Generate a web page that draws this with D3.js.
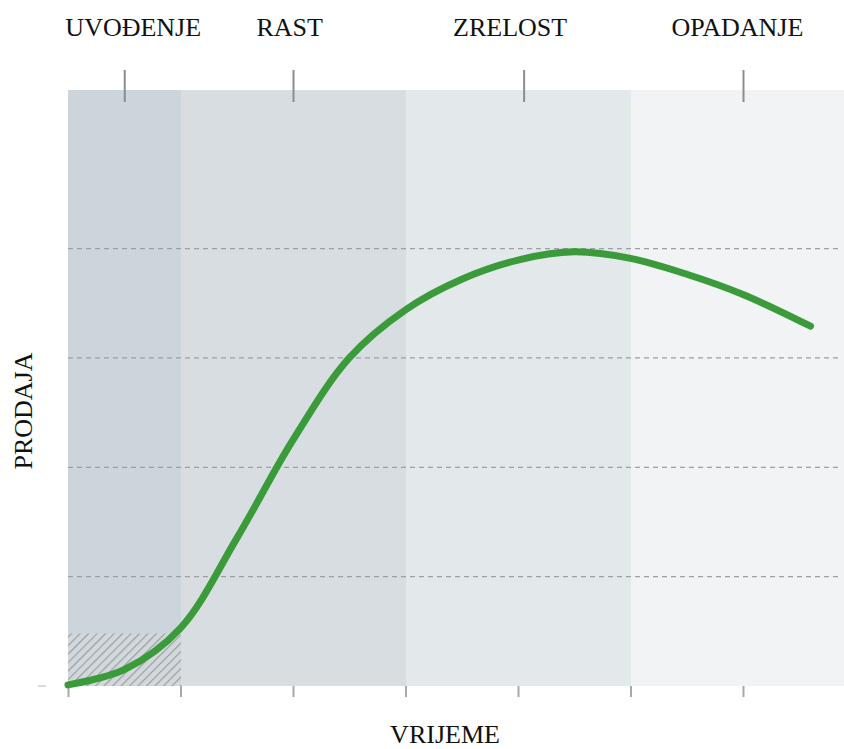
<!DOCTYPE html>
<html>
<head>
<meta charset="utf-8">
<script src="https://cdn.jsdelivr.net/npm/d3@7"></script>
<style>
  body { margin: 0; background: #fff; }
  svg { display: block; }
  text { font-family: "Liberation Serif", "Times New Roman", serif; fill: #111; }
</style>
</head>
<body>
<svg id="chart" width="844" height="749"></svg>
<script>
// stages of the product life cycle (x in time units)
const stageNames = ["UVOĐENJE", "RAST", "ZRELOST", "OPADANJE"];
const stageStart = [0, 1, 3, 5];
const stageEnd = [1, 3, 5, 6.9];
const stageTick = [0.5, 2, 4.05, 6];
const stageLabelAt = [0.58, 1.97, 3.93, 5.95];

// sales curve
const timeVals = [0, 0.5, 1.0, 1.5, 2.0, 2.5, 3.0, 3.5, 4.0, 4.5, 5.0, 5.5, 6.0, 6.6];
const salesVals = [0.01, 0.15, 0.53, 1.35, 2.25, 3.0, 3.44, 3.72, 3.895, 3.97, 3.91, 3.765, 3.58, 3.29];

const timeTicks = [0, 1, 2, 3, 4, 5, 6];
const gridVals = [1, 2, 3, 4];
const hatchTop = 0.48;

const svg = d3.select("#chart");
const plot = { left: 68, right: 844, top: 90, bottom: 686 };

const x = d3.scaleLinear().domain([0, 6]).range([plot.left, 743]);
const y = d3.scaleLinear().domain([0, 5.45]).range([plot.bottom, plot.top]);

const bandColors = ["#cdd5dc", "#d8dde1", "#e3e8eb", "#f1f3f5"];

// hatch pattern
const defs = svg.append("defs");
const pat = defs.append("pattern")
  .attr("id", "hatch")
  .attr("patternUnits", "userSpaceOnUse")
  .attr("width", 6).attr("height", 6)
  .attr("patternTransform", "rotate(45)");
pat.append("rect").attr("width", 6).attr("height", 6).attr("fill", "#d3d8dc");
pat.append("line")
  .attr("x1", 0).attr("y1", 0).attr("x2", 0).attr("y2", 6)
  .attr("stroke", "#9a9fa4").attr("stroke-width", 2.4);

// bands
svg.append("g").selectAll("rect")
  .data(stageNames)
  .join("rect")
  .attr("x", (d, i) => Math.round(x(stageStart[i])))
  .attr("y", plot.top)
  .attr("width", (d, i) => Math.round(x(stageEnd[i])) - Math.round(x(stageStart[i])))
  .attr("height", plot.bottom - plot.top)
  .attr("fill", (d, i) => bandColors[i])
  .attr("shape-rendering", "crispEdges");

// hatched area
svg.append("rect")
  .attr("x", x(0))
  .attr("y", y(hatchTop))
  .attr("width", Math.round(x(1)) - x(0))
  .attr("height", y(0) - y(hatchTop))
  .attr("fill", "url(#hatch)");

// dashed grid
svg.append("g").selectAll("line")
  .data(gridVals)
  .join("line")
  .attr("x1", plot.left).attr("x2", plot.right - 4)
  .attr("y1", d => y(d)).attr("y2", d => y(d))
  .attr("stroke", "#9c9fa3")
  .attr("stroke-width", 1.3)
  .attr("stroke-dasharray", "5,4");

// bottom axis ticks
const xAxis = svg.append("g")
  .attr("transform", "translate(0," + plot.bottom + ")")
  .call(d3.axisBottom(x).tickValues(timeTicks).tickSize(11).tickFormat(""));
xAxis.select(".domain").remove();
xAxis.selectAll("line").attr("stroke", "#a6a8aa").attr("stroke-width", 2);

// stray tick at origin on the left
svg.append("line")
  .attr("x1", 38).attr("x2", 46)
  .attr("y1", y(0)).attr("y2", y(0))
  .attr("stroke", "#b8b8b8").attr("stroke-width", 1);

// top stage ticks
const topAxis = svg.append("g")
  .attr("transform", "translate(0,102)")
  .call(d3.axisTop(x).tickValues(stageTick).tickSize(32).tickFormat(""));
topAxis.select(".domain").remove();
topAxis.selectAll("line").attr("stroke", "#8a8c8e").attr("stroke-width", 2);

// stage labels
svg.append("g").selectAll("text")
  .data(stageNames)
  .join("text")
  .attr("x", (d, i) => x(stageLabelAt[i]))
  .attr("y", 36)
  .attr("text-anchor", "middle")
  .style("font-size", "26px")
  .text(d => d);

// sales curve
const line = d3.line()
  .x((d, i) => x(timeVals[i]))
  .y(d => y(d))
  .curve(d3.curveCatmullRom.alpha(0.5));

svg.append("path")
  .datum(salesVals)
  .attr("fill", "none")
  .attr("stroke", "#3b9b3a")
  .attr("stroke-width", 7)
  .attr("stroke-linecap", "round")
  .attr("stroke-linejoin", "round")
  .attr("d", line);

// axis titles
svg.append("text")
  .attr("x", 445)
  .attr("y", 743)
  .attr("text-anchor", "middle")
  .style("font-size", "26px")
  .text("VRIJEME");

svg.append("text")
  .attr("transform", "translate(32,411) rotate(-90)")
  .attr("text-anchor", "middle")
  .style("font-size", "26px")
  .text("PRODAJA");
</script>
</body>
</html>
